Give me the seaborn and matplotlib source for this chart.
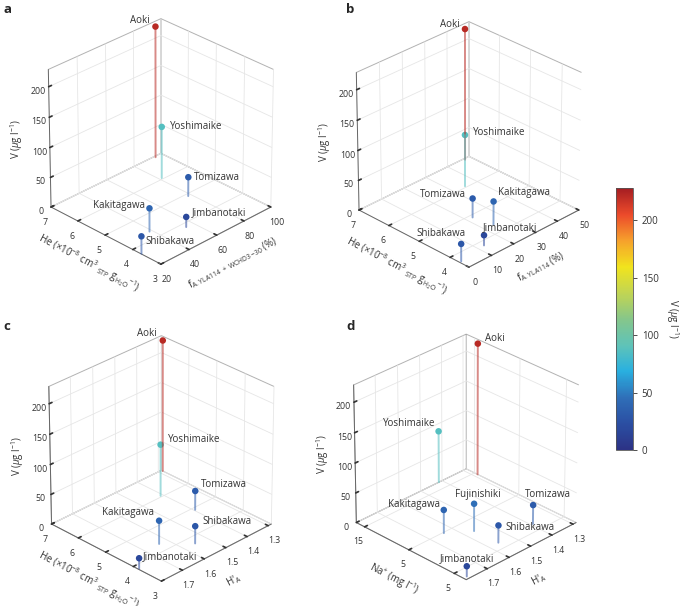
import numpy as np
import pandas as pd
import seaborn as sns
import matplotlib.pyplot as plt
from matplotlib import cm, colors as mcolors
from mpl_toolkits.mplot3d import proj3d

# values
lakes = ["Aoki", "Yoshimaike", "Tomizawa", "Kakitagawa", "Jimbanotaki", "Shibakawa"]
vanadium = [221, 87, 32, 39, 17, 29]
helium = [6.95, 6.05, 4.9, 4.33, 3.83, 3.7]
f_yla_wchd = [95, 81.6, 78, 38.4, 54.8, 20.2]
f_yla = [47.5, 35, 22.5, 24, 12.7, 0.75]
h_a = [1.285, 1.41, 1.395, 1.636, 1.79, 1.551]

lakes_d = lakes + ["Fujinishiki"]
vanadium_d = vanadium + [46]
sodium_d = [14.3, 16.9, -3.1, 4.8, -7.0, -3.3, 1.9]
h_a_d = [1.285, 1.415, 1.392, 1.64, 1.78, 1.558, 1.561]

na_ticks = [-5, 5, 15]
na_ticklabels = ["5", "5", "15"]
v_ticks = [0, 50, 100, 150, 200]

sns.set_theme(style="white", rc={"grid.color": "#e6e6e6", "grid.linewidth": 0.6})
plt.rcParams["font.family"] = ["Open Sans", "DejaVu Sans"]
plt.rcParams["mathtext.fontset"] = "custom"
plt.rcParams["mathtext.rm"] = "Open Sans"
plt.rcParams["mathtext.it"] = "Open Sans:italic"

cmap = sns.blend_palette(["#2c3285", "#2b4fa3", "#2f6fb8", "#29b0e0", "#5fc3b8", "#86c68a",
                          "#c2d552", "#f1e41d", "#f6a02c", "#ec4b2b", "#a51d22"], as_cmap=True)
norm = mcolors.Normalize(0, 228)

he_label = r"He ($\times$10$^{-8}$ cm$^{3}$ $_{\rm STP}$ g$_{\rm H_2O}$$^{-1}$)"
panels = [
    dict(tag="a", x=f_yla_wchd, y=helium, v=vanadium, names=lakes,
         xlim=(20, 100), xticks=[20, 40, 60, 80, 100], ylim=(3, 7), yticks=[3, 4, 5, 6, 7],
         xlabel=r"f$_{\rm A.YLA114\ +\ WCHD3\!-\!30}$ (%)", ylabel=he_label,
         center=(157, 143), tagpos=(3, 3),
         offs={"Aoki": (-6, 6, "right"), "Yoshimaike": (8, 0, "left"), "Tomizawa": (6, 0, "left"),
               "Kakitagawa": (-4, 3, "right"), "Jimbanotaki": (6, 4, "left"), "Shibakawa": (4, -5, "left")}),
    dict(tag="b", x=f_yla, y=helium, v=vanadium, names=lakes,
         xlim=(0, 50), xticks=[0, 10, 20, 30, 40, 50], ylim=(3.4, 7.0), yticks=[4, 5, 6, 7],
         xlabel=r"f$_{\rm A.YLA114}$ (%)", ylabel=he_label,
         center=(465, 146), tagpos=(346, 3),
         offs={"Aoki": (-5, 5, "right"), "Yoshimaike": (8, 2, "left"), "Tomizawa": (-7, 4, "right"),
               "Kakitagawa": (4, 9, "left"), "Jimbanotaki": (-1, 8, "left"), "Shibakawa": (-20, 10, "center")}),
    dict(tag="c", x=h_a, y=helium, v=vanadium, names=lakes,
         xlim=(1.795, 1.285), xticks=[1.3, 1.4, 1.5, 1.6, 1.7], ylim=(3, 7), yticks=[3, 4, 5, 6, 7],
         xlabel=r"H'$_{\rm A}$", ylabel=he_label,
         center=(157.5, 460), tagpos=(3, 320),
         offs={"Aoki": (-6, 7, "right"), "Yoshimaike": (7, 5, "left"), "Tomizawa": (6, 6, "left"),
               "Kakitagawa": (-5, 8, "right"), "Jimbanotaki": (4, 2, "left"), "Shibakawa": (7, 5, "left")}),
    dict(tag="d", x=h_a_d, y=sodium_d, v=vanadium_d, names=lakes_d,
         xlim=(1.795, 1.285), xticks=[1.3, 1.4, 1.5, 1.6, 1.7], ylim=(-7.6, 16.9), yticks=na_ticks,
         yticklabels=na_ticklabels,
         xlabel=r"H'$_{\rm A}$", ylabel=r"Na$^{+}$ (mg l$^{-1}$)",
         center=(462.3, 458.5), tagpos=(346, 320),
         offs={"Aoki": (7, 5, "left"), "Yoshimaike": (-3, 8, "right"), "Tomizawa": (15, 11, "center"),
               "Kakitagawa": (-4, 5, "right"), "Jimbanotaki": (0, 8, "center"), "Shibakawa": (7, -2, "left"),
               "Fujinishiki": (4, 9, "center")}),
]

W, H = 684, 606
fig = plt.figure(figsize=(W / 100, H / 100), dpi=100)
size = 290

for p in panels:
    cx, cy = p["center"]
    ax = fig.add_axes([(cx - size / 2) / W, (H - cy - size / 2) / H, size / W, size / H], projection="3d")
    ax.set_proj_type("persp", focal_length=2)
    ax.view_init(elev=29, azim=-135)
    ax.set_box_aspect((1, 1, 1.0), zoom=0.912)
    ax.set_xlim(*p["xlim"])
    ax.set_ylim(*p["ylim"])
    ax.set_zlim(0, 228)

    for xv, yv, vv in zip(p["x"], p["y"], p["v"]):
        ax.plot([xv, xv], [yv, yv], [0, vv], color=cmap(norm(vv)), alpha=0.55, lw=1.4)
    ax.scatter(p["x"], p["y"], p["v"], c=p["v"], cmap=cmap, norm=norm, s=22,
               depthshade=False, edgecolors="none", alpha=1)

    ax.set_xticks(p["xticks"])
    ax.set_yticks(p["yticks"])
    if "yticklabels" in p:
        ax.set_yticklabels(p["yticklabels"])
    ax.set_zticks(v_ticks)
    ax.tick_params(labelsize=6.3, colors="#333333", pad=-2)
    ax.tick_params(axis="z", pad=-3)
    for axis in (ax.xaxis, ax.yaxis, ax.zaxis):
        axis.pane.fill = False
        axis.pane.set_edgecolor("#666666")
        axis.pane.set_linewidth(0.7)
        axis.line.set_color("#666666")
        axis.line.set_linewidth(0.7)
        axis._axinfo["tick"]["inward_factor"] = 0.0
        axis._axinfo["tick"]["outward_factor"] = 0.3
        axis._axinfo["tick"]["color"] = "#666666"
    ax.set_xlabel(p["xlabel"], fontsize=7, color="#333333", labelpad=-5)
    ax.set_ylabel(p["ylabel"], fontsize=7, color="#333333", labelpad=-5)
    ax.zaxis.set_rotate_label(False)
    ax.set_zlabel(r"V ($\mu$g l$^{-1}$)", fontsize=7, color="#333333", labelpad=-5, rotation=90)

    M = ax.get_proj()
    for name, xv, yv, vv in zip(p["names"], p["x"], p["y"], p["v"]):
        x2, y2, _ = proj3d.proj_transform(xv, yv, vv, M)
        dx, dy, ha = p["offs"][name]
        ax.annotate(name, xy=(x2, y2), xytext=(dx, dy), textcoords="offset pixels",
                    ha=ha, va="center", fontsize=7, color="#333333")

    tx, ty = p["tagpos"]
    fig.text(tx / W, 1 - ty / H, p["tag"], fontsize=9.5, fontweight="bold", va="top")

cax = fig.add_axes([615.7 / W, (H - 450) / H, 17 / W, 262 / H])
sm = cm.ScalarMappable(norm=norm, cmap=cmap)
cb = fig.colorbar(sm, cax=cax, ticks=v_ticks)
cb.outline.set_edgecolor("#555555")
cb.outline.set_linewidth(0.6)
cb.ax.tick_params(labelsize=7, length=3, width=0.6, colors="#333333")
cb.set_label(r"V ($\mu$g l$^{-1}$)", rotation=-90, labelpad=16, fontsize=7, color="#333333")

fig.savefig("out.png", dpi=100)
